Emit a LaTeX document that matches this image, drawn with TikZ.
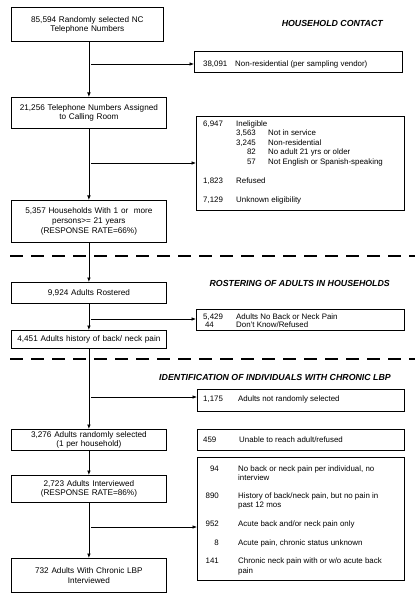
\documentclass[tikz,border=0pt]{standalone}
\usepackage{fontspec}
\setmainfont{Liberation Sans}
\usetikzlibrary{arrows.meta}
\begin{document}
\begin{tikzpicture}[x=1pt,y=-1pt,
  lbox/.style={draw, line width=0.8pt, inner sep=0pt, align=center,
    font=\fontsize{8.2}{9.8}\selectfont, minimum width=155pt, text width=150pt, anchor=north west},
  rbox/.style={draw, line width=0.8pt, inner sep=0pt, minimum width=208pt, anchor=north west},
  rt/.style={anchor=base west, inner sep=0pt, font=\fontsize{7.9}{9.5}\selectfont},
  rn/.style={anchor=base east, inner sep=0pt, font=\fontsize{7.9}{9.5}\selectfont},
  hd/.style={anchor=base east, inner sep=0pt, font=\fontsize{8.8}{10}\selectfont\bfseries\itshape},
  arr/.style={line width=0.7pt, -{Latex[length=4.5pt,width=3.6pt]}},
  sep/.style={line width=2.2pt, dash pattern=on 13pt off 8pt}
]
\useasboundingbox (0,0) rectangle (415,601);

% left column
\node[lbox, minimum width=152pt, text width=148pt, minimum height=34pt] (b1) at (11,7.5) {85,594 Randomly selected NC\\Telephone Numbers};
\node[lbox, minimum height=31pt] (b2) at (11,97) {21,256 Telephone Numbers Assigned\\to Calling Room};
\node[lbox, minimum height=42pt] (b3) at (11,200) {5,357 Households With 1 or\ \ more\\persons>= 21 years\\(RESPONSE RATE=66\%)};
\node[lbox, minimum height=21pt] (b4) at (11,282) {9,924 Adults Rostered};
\node[lbox, minimum height=18pt] (b5) at (11,330) {4,451 Adults history of back/ neck pain};
\node[lbox, minimum height=21pt] (b6) at (11,429) {3,276 Adults randomly selected\\(1 per household)};
\node[lbox, minimum height=27pt] (b7) at (11,475) {2,723 Adults Interviewed\\(RESPONSE RATE=86\%)};
\node[lbox, minimum height=34pt] (b8) at (11,558) {732 Adults With Chronic LBP\\Interviewed};

% headings
\node[hd] (h1) at (383,26.5) {HOUSEHOLD CONTACT};
\node[hd] (h2) at (390,286.5) {ROSTERING OF ADULTS IN HOUSEHOLDS};
\node[hd] (h3) at (391,380.5) {IDENTIFICATION OF INDIVIDUALS WITH CHRONIC LBP};

% right boxes
\node[rbox, minimum height=21pt] (r1) at (194,51) {};
\node[rt] (r1a) at (203,67) {38,091};
\node[rt] (r1b) at (235,67) {Non-residential (per sampling vendor)};

\node[rbox, minimum width=208pt, minimum height=94pt] (r2) at (196,116) {};
\node[rt] (r2a) at (203,127) {6,947};
\node[rt] (r2b) at (236,127) {Ineligible};
\node[rn] (r2c) at (256,136) {3,563};
\node[rt] (r2d) at (268,136) {Not in service};
\node[rn] (r2e) at (256,146) {3,245};
\node[rt] (r2f) at (268,146) {Non-residential};
\node[rn] (r2g) at (256,155) {82};
\node[rt] (r2h) at (268,155) {No adult 21 yrs or older};
\node[rn] (r2i) at (256,165) {57};
\node[rt] (r2j) at (268,165) {Not English or Spanish-speaking};
\node[rt] (r2k) at (203,184) {1,823};
\node[rt] (r2l) at (236,184) {Refused};
\node[rt] (r2m) at (203,203) {7,129};
\node[rt] (r2n) at (236,203) {Unknown eligibility};

\node[rbox, minimum height=21pt] (r3) at (196,309) {};
\node[rt] (r3a) at (203,319) {5,429};
\node[rt] (r3b) at (236,319) {Adults No Back or Neck Pain};
\node[rn] (r3c) at (214,327) {44};
\node[rt] (r3d) at (236,327) {Don't Know/Refused};

\node[rbox, minimum width=207pt, minimum height=22pt] (r4) at (197,389) {};
\node[rt] (r4a) at (203,401) {1,175};
\node[rt] (r4b) at (238,401) {Adults not randomly selected};

\node[rbox, minimum width=207pt, minimum height=21pt] (r5) at (197,429) {};
\node[rt] (r5a) at (203,442) {459};
\node[rt] (r5b) at (239,442) {Unable to reach adult/refused};

\node[rbox, minimum width=207pt, minimum height=123pt] (r6) at (197,457) {};
\node[rn] (r6a) at (219,471) {94};
\node[rt] (r6b) at (238,471) {No back or neck pain per individual, no};
\node[rt] (r6c) at (238,480) {interview};
\node[rn] (r6d) at (219,498) {890};
\node[rt] (r6e) at (238,498) {History of back/neck pain, but no pain in};
\node[rt] (r6f) at (238,507) {past 12 mos};
\node[rn] (r6g) at (219,526) {952};
\node[rt] (r6h) at (238,526) {Acute back and/or neck pain only};
\node[rn] (r6i) at (219,545) {8};
\node[rt] (r6j) at (238,545) {Acute pain, chronic status unknown};
\node[rn] (r6k) at (219,563) {141};
\node[rt] (r6l) at (238,563) {Chronic neck pain with or w/o acute back};
\node[rt] (r6m) at (238,573) {pain};

% dashed separators
\coordinate (d1a) at (10,256);
\coordinate (d1b) at (415,256);
\coordinate (d2a) at (10,359);
\coordinate (d2b) at (415,359);
\draw[sep] (d1a) -- (d1b);
\draw[sep] (d2a) -- (d2b);

% vertical flow
\draw[arr] (b1.south -| b2.north) -- (b2.north);
\draw[arr] (b2) -- (b3);
\draw[arr] (b3) -- (b4);
\draw[arr] (b4) -- (b5);
\draw[arr] (b5) -- (b6);
\draw[arr] (b6) -- (b7);
\draw[arr] (b7) -- (b8);

% branches
\coordinate (j1) at (91,64);
\coordinate (j2) at (91,163);
\coordinate (j3) at (91,319);
\coordinate (j4) at (91,397);
\coordinate (j5) at (91,527);
\draw[arr] (j1) -- (j1 -| r1.west);
\draw[arr] (j2) -- (j2 -| r2.west);
\draw[arr] (j3) -- (j3 -| r3.west);
\draw[arr] (j4) -- (j4 -| r4.west);
\draw[arr] (j5) -- (j5 -| r6.west);
\end{tikzpicture}
\end{document}
